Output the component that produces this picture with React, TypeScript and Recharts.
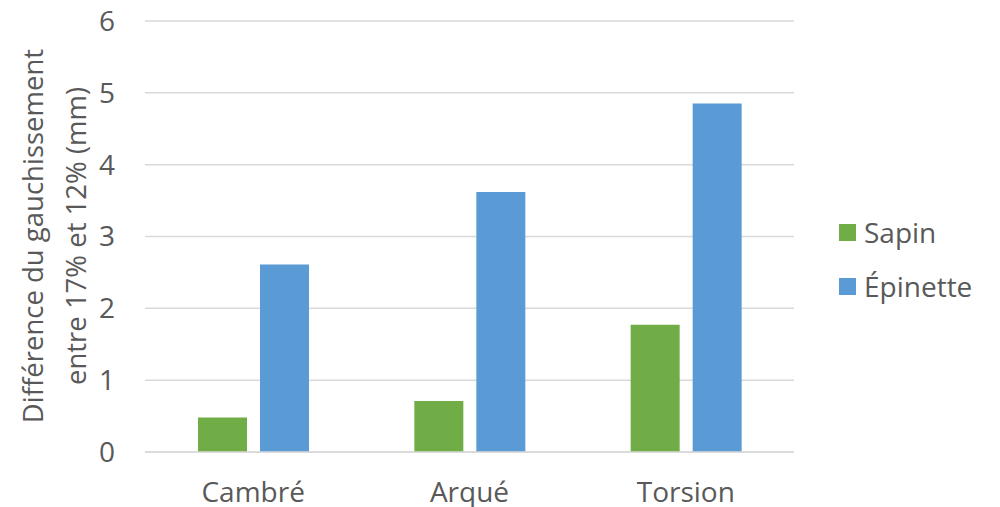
import React from 'react';
import { BarChart, Bar, XAxis, YAxis, CartesianGrid, Legend } from 'recharts';

const categories = ['Cambré', 'Arqué', 'Torsion'];
const sapin = [0.48, 0.71, 1.77];
const epinette = [2.61, 3.62, 4.85];
const yTicks = [0, 1, 2, 3, 4, 5, 6];

const seriesNames = ['Sapin', 'Épinette'];
const colors = ['#70AD47', '#5B9BD5'];

const data = categories.map((name, i) => ({ name, sapin: sapin[i], epinette: epinette[i] }));

const FONT = '"Open Sans", "Noto Sans", sans-serif';
const TEXT = '#595959';
const GRID = '#D9D9D9';

function YLabel() {
  return (
    <text
      x={43}
      y={236}
      transform="rotate(-90, 43, 236)"
      textAnchor="middle"
      fill={TEXT}
      fontSize={27.5}
      fontFamily={FONT}
    >
      <tspan x={43} dy={0}>Différence du gauchissement</tspan>
      <tspan x={43} dy={43}>entre 17% et 12% (mm)</tspan>
    </text>
  );
}

function LegendBox() {
  return (
    <div style={{ paddingLeft: 45, fontFamily: FONT, fontSize: 28, color: TEXT }}>
      {seriesNames.map((s, i) => (
        <div key={s} style={{ height: 54, display: 'flex', alignItems: 'center', whiteSpace: 'nowrap' }}>
          <span style={{ width: 17, height: 17, background: colors[i], display: 'inline-block', marginRight: 8 }} />
          <span>{s}</span>
        </div>
      ))}
    </div>
  );
}

export default function App() {
  return (
    <div style={{ position: 'absolute', left: 0, top: 0, width: 1000, height: 507, background: '#fff' }}>
      <BarChart
        width={1000}
        height={507}
        data={data}
        margin={{ top: 21, right: 26, bottom: 0, left: 0 }}
        barCategoryGap={53}
        barGap={13}
      >
        <CartesianGrid vertical={false} stroke={GRID} strokeWidth={1.5} />
        <XAxis
          dataKey="name"
          height={55}
          tickLine={false}
          tickSize={0}
          tickMargin={30}
          axisLine={{ stroke: GRID, strokeWidth: 1.5 }}
          tick={{ fill: TEXT, fontSize: 28, fontFamily: FONT }}
        />
        <YAxis
          domain={[0, 6]}
          ticks={yTicks}
          width={145}
          axisLine={false}
          tickLine={false}
          tickSize={0}
          tickMargin={30}
          tick={{ fill: TEXT, fontSize: 28, fontFamily: FONT }}
          label={<YLabel />}
        />
        <Legend
          layout="vertical"
          align="right"
          verticalAlign="middle"
          width={180}
          wrapperStyle={{ top: 205 }}
          content={<LegendBox />}
        />
        <Bar dataKey="sapin" name={seriesNames[0]} fill={colors[0]} isAnimationActive={false} />
        <Bar dataKey="epinette" name={seriesNames[1]} fill={colors[1]} isAnimationActive={false} />
      </BarChart>
    </div>
  );
}
